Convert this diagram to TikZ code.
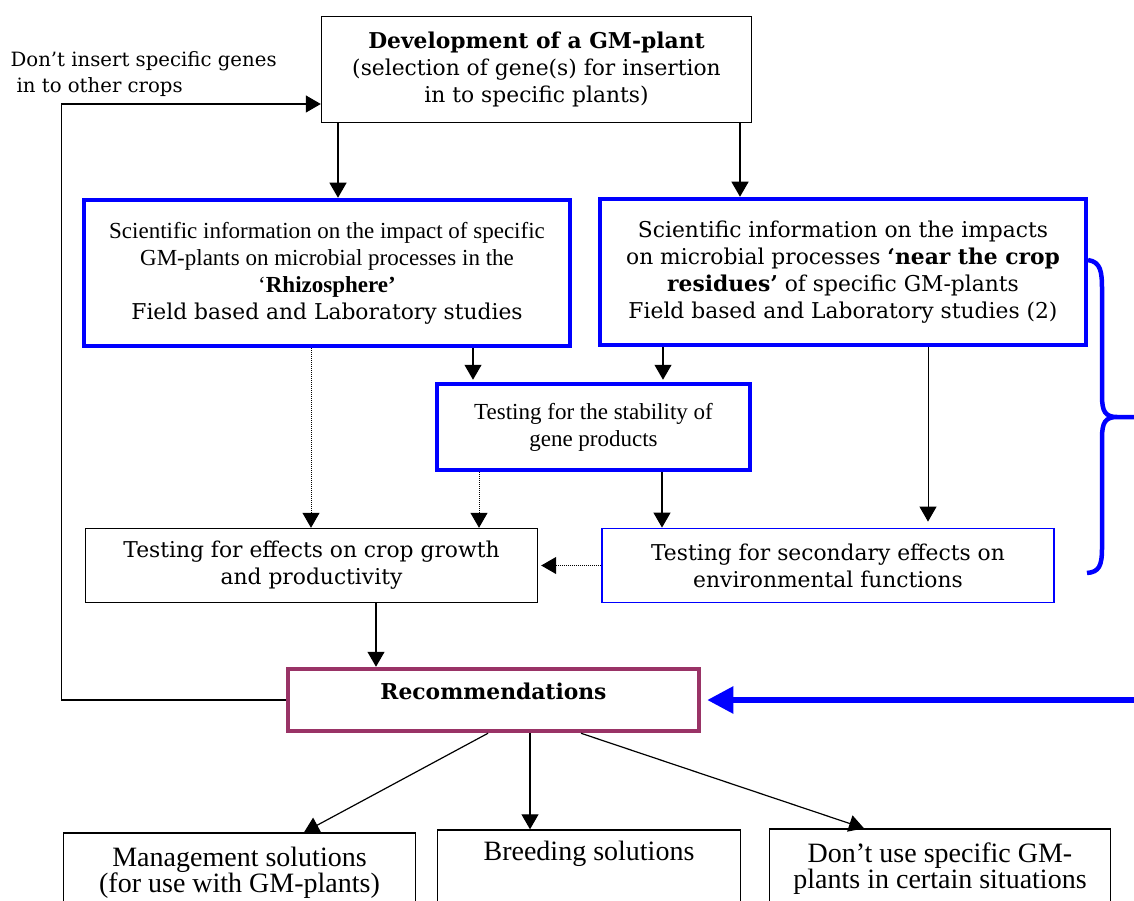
\documentclass[tikz,border=0pt]{standalone}
\usepackage{fontspec}
\usepackage{tikz}
\usetikzlibrary{arrows.meta, positioning, calc}
\newfontfamily\bkm{DejaVu Serif}
\newfontfamily\tnr{Liberation Serif}
\newcommand{\notefont}{\bkm\fontsize{19.7}{26}\selectfont}
\newcommand{\bkmfont}{\bkm\fontsize{21.8}{27}\selectfont}
\newcommand{\tnrfont}{\tnr\fontsize{23}{27}\selectfont}
\newcommand{\tnrbig}{\tnr\fontsize{28}{26}\selectfont}
\definecolor{recpurple}{RGB}{153,51,102}

\begin{document}
\begin{tikzpicture}
            [x=1pt, y=-1pt, ->, >={Triangle[length=15pt,width=17pt]}, line width=1.2pt,
            plainbox/.style={rectangle, align=center, draw=black, line width=1.4pt, inner sep=0pt},
            bluebox/.style={rectangle, align=center, draw=blue, line width=4.5pt, inner sep=0pt},
            thinblue/.style={rectangle, align=center, draw=blue, line width=1.8pt, inner sep=0pt},
            recbox/.style={rectangle, align=center, draw=recpurple, line width=4.5pt, inner sep=0pt},
            dotarrow/.style={densely dotted, line width=1pt}]

            \useasboundingbox (0,0) rectangle (1134,901);
            \clip (0,0) rectangle (1134,901);

            \node[plainbox,font=\bkmfont,minimum width=430pt,minimum height=106pt] (dev) at (536.5,69.5)
                {\textbf{Development of a GM-plant}\\(selection of gene(s) for insertion\\in to specific plants)};
            \node[font=\notefont,align=left,anchor=north west,inner sep=0pt] (note) at (10,51)
                {Don’t insert specific genes\\\hspace*{6pt}in to other crops};

            \node[bluebox,font=\tnrfont,minimum width=486pt,minimum height=146pt] (rhizo) at (327,273)
                {Scientific information on the impact of specific\\GM-plants on microbial processes in the\\‘\textbf{Rhizosphere’}\\\bkmfont Field based and Laboratory studies};
            \node[bluebox,font=\bkmfont,minimum width=486pt,minimum height=146pt] (residue) at (843,272)
                {Scientific information on the impacts\\on microbial processes \textbf{‘near the crop}\\\textbf{residues’} of specific GM-plants\\Field based and Laboratory studies (2)};
            \node[bluebox,font=\tnrfont,minimum width=313pt,minimum height=86pt] (stab) at (593.5,427)
                {Testing for the stability of\\gene products};

            \node[plainbox,font=\bkmfont,minimum width=452pt,minimum height=74pt] (crop) at (311.5,565.5)
                {Testing for effects on crop growth\\and productivity};
            \node[thinblue,font=\bkmfont,minimum width=452pt,minimum height=74pt] (secondary) at (828,565.5)
                {Testing for secondary effects on\\environmental functions};

            \node[recbox,font=\bkmfont,minimum width=411pt,minimum height=62pt,text height=16pt,text depth=18pt] (rec) at (493.5,700)
                {\textbf{Recommendations}};

            \node[plainbox,font=\tnrbig,minimum width=352pt,minimum height=80pt] (mgmt) at (239.5,873)
                {Management solutions\\(for use with GM-plants)};
            \node[plainbox,font=\tnrbig,minimum width=303pt,minimum height=76pt] (breeding) at (589,868)
                {Breeding solutions\\\strut};
            \node[plainbox,font=\tnrbig,minimum width=341pt,minimum height=79pt] (dontuse) at (940,868.5)
                {Don’t use specific GM-\\plants in certain situations};

            \coordinate (feedin) at (1134,700);

            \draw (dev.south -| 338,0) -- (rhizo.north -| 338,0);
            \draw (dev.south -| 740,0) -- (residue.north -| 740,0);
            \draw[shorten >=2pt] (rhizo.south -| 473,0) -- (stab.north -| 473,0);
            \draw[shorten >=2pt] (residue.south -| 663,0) -- (stab.north -| 663,0);
            \draw[dotarrow] (rhizo.south -| 311,0) -- (crop.north -| 311,0);
            \draw[dotarrow] (stab.south -| 479,0) -- (crop.north -| 479,0);
            \draw (stab.south -| 662,0) -- (secondary.north -| 662,0);
            \draw[line width=1pt,shorten >=6pt] (residue.south -| 928,0) -- (secondary.north -| 928,0);
            \draw[dotarrow,shorten >=3pt] (secondary.west) -- (crop.east);
            \draw (crop.south -| 376,0) -- (rec.north -| 376,0);
            \draw (rec.south -| 488,0) -- (mgmt.north -| 304,0);
            \draw (rec.south -| 530,0) -- (breeding.north -| 530,0);
            \draw (rec.south -| 581,0) -- (dontuse.north -| 864,0);

            % way back to the top
            \draw (rec.west) -- ++(-224,0) |- ([yshift=-34.5pt]dev.west);

            % brace over the two right hand studies
            \draw[-, draw=blue, line width=4.5pt]
                (1088,260) .. controls (1101,262) and (1102,272) .. (1102,290) -- (1102,396)
                .. controls (1102,411) and (1105,417) .. (1117,417) -- (1134,417)
                (1117,417) .. controls (1105,417) and (1102,423) .. (1102,438) -- (1102,548)
                .. controls (1102,566) and (1099,572) .. (1087,573);
            \draw[-{Triangle[length=26pt,width=26pt]}, draw=blue, line width=5.5pt, shorten >=6pt] (feedin) -- (rec.east);

        \end{tikzpicture}
\end{document}
